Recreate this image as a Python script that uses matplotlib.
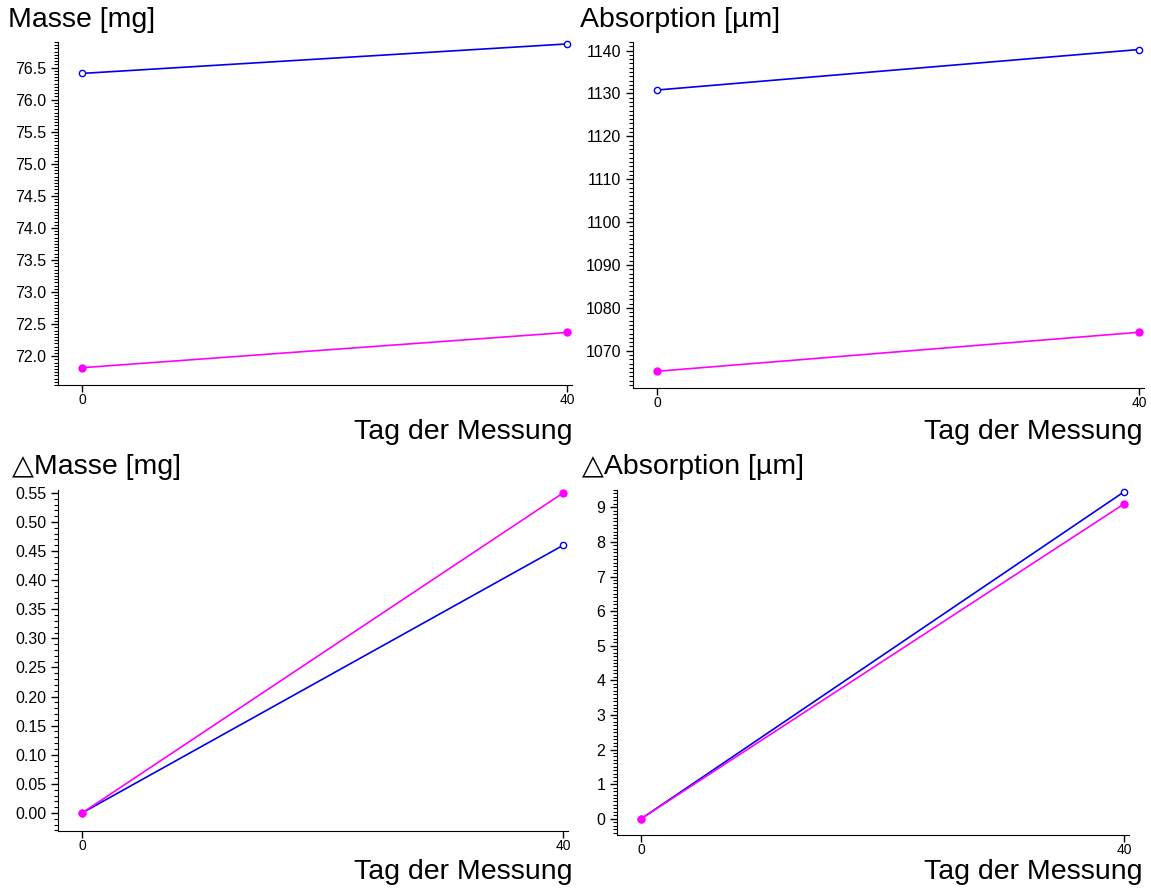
import matplotlib
matplotlib.use('Agg')
import matplotlib.pyplot as plt
from matplotlib.ticker import MultipleLocator, FormatStrFormatter

plt.rcParams['font.family'] = ['Liberation Sans', 'DejaVu Sans']

# measurement days
tage = [0, 40]

# mass and absorption per sample
masse_blau = [76.41, 76.87]
masse_pink = [71.82, 72.37]
absorption_blau = [1130.8, 1140.25]
absorption_pink = [1065.2, 1074.3]

# change relative to day 0
d_masse_blau = [0.0, 0.46]
d_masse_pink = [0.0, 0.55]
d_absorption_blau = [0.0, 9.45]
d_absorption_pink = [0.0, 9.1]

W, H = 1151, 890
fig = plt.figure(figsize=(W / 100, H / 100), dpi=100)


def make_axes(left, right, top, bottom):
    return fig.add_axes([left / W, 1 - bottom / H, (right - left) / W, (bottom - top) / H])


def style(ax, title, ylim, major, minor, fmt, title_pos, xlabel_pos):
    ax.set_xlim(-2, 40.4)
    ax.set_ylim(*ylim)
    ax.spines['top'].set_visible(False)
    ax.spines['right'].set_visible(False)
    ax.set_xticks(tage)
    ax.yaxis.set_major_locator(MultipleLocator(major))
    ax.yaxis.set_minor_locator(MultipleLocator(minor))
    ax.yaxis.set_major_formatter(FormatStrFormatter(fmt))
    ax.tick_params(axis='y', which='major', length=5, width=1, labelsize=11.5, direction='out')
    ax.tick_params(axis='y', which='minor', length=3, width=0.8, direction='out')
    ax.tick_params(axis='x', which='major', length=5, width=1, labelsize=10, pad=1)
    fig.text(title_pos[0] / W, 1 - title_pos[1] / H, title, fontsize=20.5,
             ha='left', va='center')
    fig.text(xlabel_pos[0] / W, 1 - xlabel_pos[1] / H, 'Tag der Messung', fontsize=20.5,
             ha='right', va='center')


def draw(ax, blau, pink):
    ax.plot(tage, blau, '-', color='#0000ee', lw=1.2, marker='o', ms=4.5,
            mfc='white', mec='#0000ee', mew=1.0, clip_on=False, zorder=3)
    ax.plot(tage, pink, '-', color='#ff00ff', lw=1.2, marker='o', ms=5,
            mfc='#ff00ff', mec='#ff00ff', clip_on=False, zorder=4)


ax1 = make_axes(58, 572, 42, 385)
draw(ax1, masse_blau, masse_pink)
style(ax1, 'Masse [mg]', (71.55, 76.9), 0.5, 0.05, '%.1f', (8, 20), (572, 432))

ax2 = make_axes(633, 1144, 42, 388)
draw(ax2, absorption_blau, absorption_pink)
style(ax2, 'Absorption [µm]', (1061.3, 1142.0), 10, 1, '%d', (580, 20), (1142, 432))

ax3 = make_axes(58, 568, 490, 831)
draw(ax3, d_masse_blau, d_masse_pink)
style(ax3, '△Masse [mg]', (-0.031, 0.555), 0.05, 0.01, '%.2f', (12, 467), (572, 872))

ax4 = make_axes(617, 1129, 490, 835)
draw(ax4, d_absorption_blau, d_absorption_pink)
style(ax4, '△Absorption [µm]', (-0.47, 9.5), 1, 0.1, '%d', (582, 467), (1142, 872))

plt.savefig('out.png', dpi=100)
